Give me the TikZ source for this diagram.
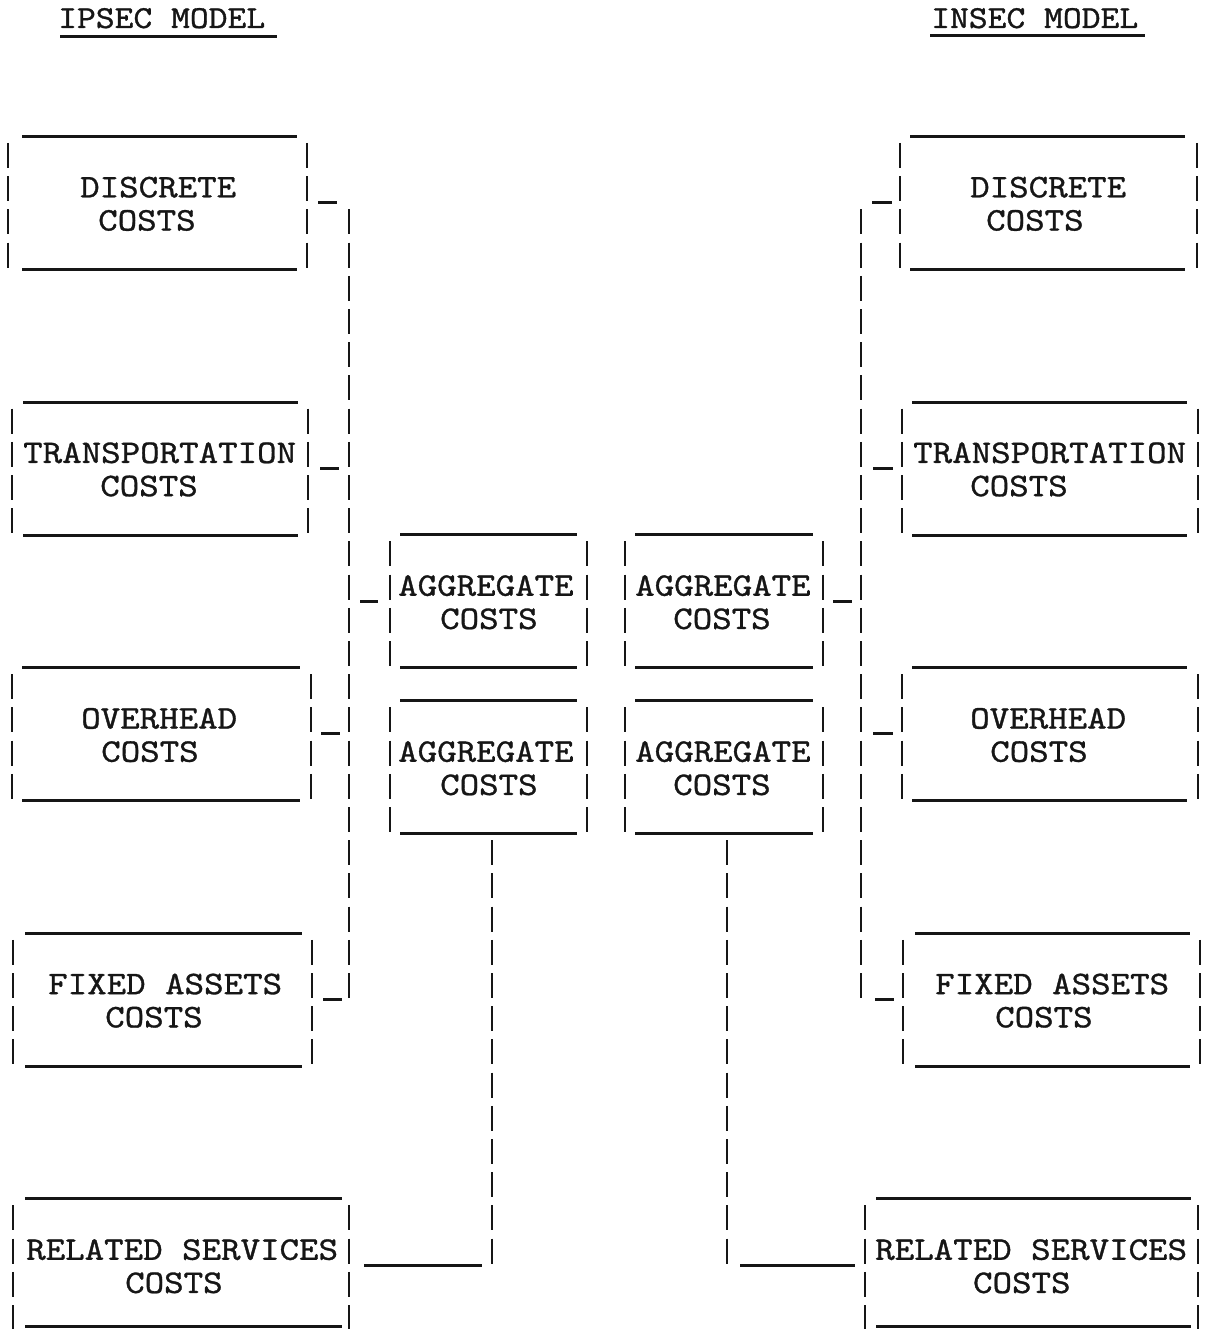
\documentclass[tikz,border=0pt]{standalone}
\usepackage{xcolor}
\usepackage{fontspec}
\newfontfamily\twfont{lmmono10-regular.otf}[FakeBold=0.9]
\definecolor{ink}{HTML}{161616}
\tikzset{
  rule/.style={draw=ink, line width=3pt},
  vpipe/.style={draw=ink, line width=2.4pt, dash pattern=on 25pt off 8.2pt},
  btxt/.style={anchor=north west, inner sep=0pt, text=ink, align=left, xscale=1.125, transform shape, font=\fontsize{33}{33.2}\selectfont\twfont},
  hdr/.style={anchor=base west, inner sep=0pt, text=ink, xscale=1.12, transform shape, font=\fontsize{32}{33}\selectfont\twfont},
}
% row top: 139 + 33.2 r
\newcommand\tbox[7]{% name, xL pipe, xR pipe, rule left, rule right, first row, bottom rule y
  \coordinate (#1-tl) at (#4,{139+33.2*#6-2.5});
  \coordinate (#1-tr) at (#5,{139+33.2*#6-2.5});
  \coordinate (#1-bl) at (#4,#7);
  \coordinate (#1-br) at (#5,#7);
  \coordinate (#1-lt) at (#2,{139+33.2*#6+4});
  \coordinate (#1-lb) at (#2,{139+33.2*(#6+4)});
  \coordinate (#1-rt) at (#3,{139+33.2*#6+4});
  \coordinate (#1-rb) at (#3,{139+33.2*(#6+4)});
  \draw[rule] (#1-tl) -- (#1-tr);
  \draw[rule] (#1-bl) -- (#1-br);
  \draw[vpipe] (#1-lt) -- (#1-lb);
  \draw[vpipe] (#1-rt) -- (#1-rb);
}
% name, x of first line, row of first line, first line, indent of second line (unscaled), second line
\newcommand\btxt[6]{\node[btxt] (#1) at (#2,{139+33.2*#3+25-20.6}) {#4\\\hspace*{#5pt}#6};}
\newcommand\ubar[4]{% name, x0, x1, row
  \coordinate (#1-a) at (#2,{139+33.2*#4+30.5});
  \coordinate (#1-b) at (#3,{139+33.2*#4+30.5});
  \draw[rule] (#1-a) -- (#1-b);
}
\begin{document}
\begin{tikzpicture}[x=1pt,y=-1pt]
\useasboundingbox[fill=white] (0,0) rectangle (1209,1329);

% headers
\node[hdr] (hL) at (58,28) {IPSEC MODEL};
\node[hdr] (hR) at (931,28) {INSEC MODEL};
\coordinate (hLa) at (60,37);  \coordinate (hLb) at (277,37);
\coordinate (hRa) at (930,36); \coordinate (hRb) at (1145,36);
\draw[rule] (hLa) -- (hLb);
\draw[rule] (hRa) -- (hRb);

% ---------------- left column ----------------
\tbox{L1}{8}{307}{22}{297}{0}{269.3}
\btxt{L1t}{80}{1}{DISCRETE}{16}{COSTS}

\tbox{L2}{12}{308}{23}{298}{8}{535.3}
\btxt{L2t}{23}{9}{TRANSPORTATION}{68.5}{COSTS}

\tbox{L3}{12}{311}{22}{300}{16}{800.5}
\btxt{L3t}{81}{17}{OVERHEAD}{17.8}{COSTS}

\tbox{L4}{13}{312}{25}{302}{24}{1066.1}
\btxt{L4t}{48}{25}{FIXED ASSETS}{50.7}{COSTS}

\tbox{L5}{13}{349}{25}{342}{32}{1326.5}
\btxt{L5t}{26}{33}{RELATED SERVICES}{88}{COSTS}

% ---------------- aggregates ----------------
\tbox{AL1}{390}{587}{400}{577}{12}{667.7}
\btxt{AL1t}{398}{13}{AGGREGATE}{37.3}{COSTS}

\tbox{AL2}{390}{587}{400}{577}{17}{833.7}
\btxt{AL2t}{398}{18}{AGGREGATE}{37.3}{COSTS}

\tbox{AR1}{625}{823}{635}{813}{12}{667.7}
\btxt{AR1t}{635}{13}{AGGREGATE}{33.8}{COSTS}

\tbox{AR2}{625}{823}{635}{813}{17}{833.7}
\btxt{AR2t}{635}{18}{AGGREGATE}{33.8}{COSTS}

% ---------------- right column ----------------
\tbox{R1}{900}{1197}{910}{1185}{0}{269.3}
\btxt{R1t}{970}{1}{DISCRETE}{14.2}{COSTS}

\tbox{R2}{902}{1198}{912}{1187}{8}{535.3}
\btxt{R2t}{913}{9}{TRANSPORTATION}{50.7}{COSTS}

\tbox{R3}{902}{1198}{912}{1187}{16}{800.5}
\btxt{R3t}{970}{17}{OVERHEAD}{17.8}{COSTS}

\tbox{R4}{903}{1200}{915}{1190}{24}{1066.1}
\btxt{R4t}{935}{25}{FIXED ASSETS}{53.3}{COSTS}

\tbox{R5}{865}{1198}{876}{1191}{32}{1326.5}
\btxt{R5t}{875}{33}{RELATED SERVICES}{87}{COSTS}

% ---------------- connectors: left side ----------------
\ubar{cL1}{318}{337}{1}
\ubar{cL2}{320}{339}{9}
\ubar{cL3}{321}{340}{17}
\ubar{cL4}{323}{342}{25}
\ubar{cLA}{360}{378}{13}
\coordinate (vLtop) at (349,{139+33.2*2+4});
\coordinate (vLbot) at (349,{139+33.2*26});
\draw[vpipe] (vLtop) -- (vLbot);

% ---------------- connectors: right side ----------------
\ubar{cR1}{872}{892}{1}
\ubar{cR2}{873}{893}{9}
\ubar{cR3}{873}{893}{17}
\ubar{cR4}{875}{894}{25}
\ubar{cRA}{833}{852}{13}
\coordinate (vRtop) at (861,{139+33.2*2+4});
\coordinate (vRbot) at (861,{139+33.2*26});
\draw[vpipe] (vRtop) -- (vRbot);

% ---------------- bottom connectors ----------------
\coordinate (dLtop) at (492,{139+33.2*21+4});
\coordinate (dLbot) at (492,{139+33.2*34});
\draw[vpipe] (dLtop) -- (dLbot);
\ubar{bL}{364}{482}{33}

\coordinate (dRtop) at (727,{139+33.2*21+4});
\coordinate (dRbot) at (727,{139+33.2*34});
\draw[vpipe] (dRtop) -- (dRbot);
\ubar{bR}{740}{855}{33}
\end{tikzpicture}
\end{document}
